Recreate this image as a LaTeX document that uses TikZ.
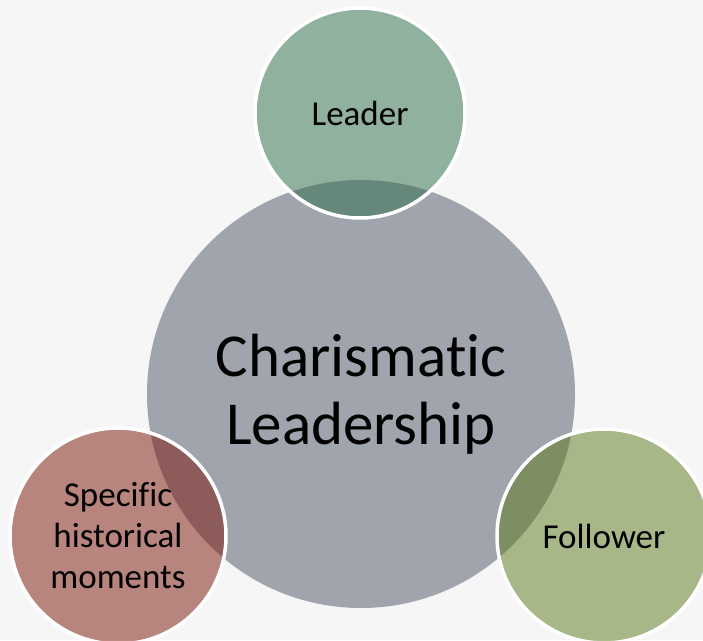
\documentclass[tikz,border=0pt]{standalone}
\usepackage{fontspec}
\setmainfont[Ligatures = NoCommon]{Carlito}
\definecolor{backdrop}{RGB}{246,246,246}
\definecolor{hubgray}{RGB}{160,164,172}
\definecolor{leadgreen}{RGB}{46,110,74}
\definecolor{momentred}{RGB}{124,20,8}
\definecolor{followolive}{RGB}{90,122,26}

\begin{document}
\begin{tikzpicture}[x = 1pt, y = -1pt,
    hub/.style = {shape = circle, fill = hubgray, minimum size = 428pt, inner sep = 0pt, align = center, font = \fontsize{61}{68}\selectfont},
    satellite/.style = {shape = circle, draw = white, line width = 3.5pt, fill opacity = 0.5, text opacity = 1, inner sep = 0pt, align = center, font = \fontsize{35}{41}\selectfont}]
    \fill[backdrop] (0,0) rectangle (703,640);
    \useasboundingbox (0,0) rectangle (703,640);
    % centre
    \node[hub] (charisma) at (361,394) {Charismatic\\Leadership};
    % the three around it
    \node[satellite, fill = leadgreen, minimum size = 210pt] (leader) at (360,113) {Leader};
    \node[satellite, fill = momentred, minimum size = 216pt] (moments) at (118,536) {Specific\\historical\\moments};
    \node[satellite, fill = followolive, minimum size = 214pt] (follower) at (604,536) {Follower};
\end{tikzpicture}
\end{document}
